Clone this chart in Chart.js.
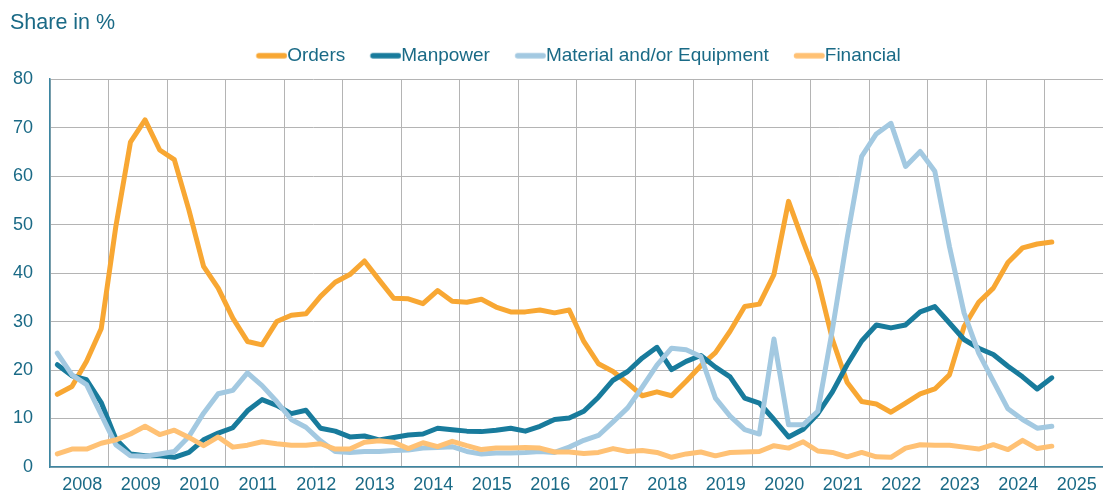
<!DOCTYPE html>
<html><head><meta charset="utf-8">
<script src="https://cdn.jsdelivr.net/npm/chart.js@4/dist/chart.umd.min.js"></script>
<style>html,body{margin:0;padding:0;background:#fff}#w{width:1103px;height:494px;position:relative}</style>
</head><body><div id="w"><canvas id="c"></canvas></div>
<script>
const years = ['2008','2009','2010','2011','2012','2013','2014','2015','2016','2017','2018','2019','2020','2021','2022','2023','2024','2025'];
const seriesNames = ['Orders','Manpower','Material and/or Equipment','Financial'];
// quarterly values, 2008 Q1 ... 2025 Q1
const orders = [15,16.6,21.8,28.5,49.6,67,71.6,65.4,63.4,53,41.4,36.9,30.7,25.9,25.2,30,31.3,31.6,35.2,38.1,39.7,42.5,38.6,34.8,34.7,33.7,36.4,34.2,34,34.6,33,32,32,32.4,31.8,32.4,25.9,21.3,19.7,17.3,14.7,15.5,14.7,17.7,20.9,23.6,28,33.1,33.6,39.7,54.8,46.5,38.6,26.3,17.5,13.5,13,11.3,13.2,15.1,16.1,19,29,34,36.9,42.2,45.2,46,46.4];
const manpower = [21.1,18.8,18,13.3,5.8,2.7,2.3,2.3,2.0,3.0,5.6,7.0,8.1,11.6,13.9,12.7,11.0,11.7,8.0,7.4,6.2,6.4,5.6,6.1,6.6,6.8,8.0,7.7,7.4,7.3,7.6,8.0,7.4,8.4,9.8,10.1,11.5,14.4,17.9,19.7,22.5,24.7,20.1,21.8,23,20.6,18.6,14.2,13.2,9.8,6.2,7.8,11,15.5,21.1,26,29.3,28.7,29.3,32,33.1,29.7,26.3,24.5,23.2,20.8,18.6,16.1,18.4];
const material = [23.5,19,17,10.8,4.6,2.3,2.2,2.7,3.2,6.3,11.1,15.1,15.8,19.4,16.8,13.5,9.8,8.2,5.4,3.2,3.0,3.2,3.2,3.4,3.5,3.9,4.0,4.2,3.2,2.7,2.9,2.9,3.0,3.2,3.0,4.1,5.5,6.5,9.3,12.2,16.5,21,24.5,24.2,22.8,14.2,10.5,7.7,6.8,26.4,8.7,8.7,11.5,28.4,47.1,64.1,68.7,70.9,62,65.1,61,45.5,31.8,23.5,17.7,12,9.8,8,8.4];
const financial = [2.7,3.7,3.7,4.9,5.6,6.8,8.4,6.7,7.6,6.1,4.4,6.2,4.1,4.5,5.2,4.8,4.5,4.5,4.8,3.7,3.7,5.1,5.4,5.1,3.8,5.0,4.2,5.3,4.4,3.6,3.9,3.9,4.0,3.9,3.1,3.1,2.8,3.0,3.8,3.2,3.4,3.0,2.0,2.7,3.1,2.3,3.0,3.1,3.2,4.4,3.9,5.2,3.3,3.0,2.1,3.0,2.1,2.0,3.9,4.6,4.5,4.5,4.1,3.7,4.6,3.6,5.5,3.8,4.3];
const yTicks = [0,10,20,30,40,50,60,70,80];

const colors = ['#F8A733','#187B9C','#A3C9E1','#FFC174'];
const txt = '#1A6A86';
const FONT = "'Liberation Sans', Arial, sans-serif";

function legendImg(color){
  const c = document.createElement('canvas');
  c.width = 56; c.height = 8;
  const g = c.getContext('2d');
  g.strokeStyle = color; g.lineWidth = 5.3; g.lineCap = 'round';
  g.beginPath(); g.moveTo(27.4,4); g.lineTo(53.1,4); g.stroke();
  return c;
}
const legendImgs = colors.map(legendImg);

const pts = arr => arr.map((v,i)=>({x:i+0.5,y:v}));
const all = [orders, manpower, material, financial];
const datasets = all.map((arr,k)=>({
  label: seriesNames[k],
  data: pts(arr),
  borderColor: colors[k],
  backgroundColor: colors[k],
  borderWidth: 5,
  pointRadius: 0,
  pointHoverRadius: 0,
  tension: 0,
  borderJoinStyle: 'round',
  borderCapStyle: 'round',
  order: 3-k
}));

const legendSpacer = {
  id: 'legendSpacer',
  beforeInit(chart){
    const orig = chart.legend.fit;
    chart.legend.fit = function(){
      orig.call(this);
      this.height += 4;
      if (this.lineWidths && this.lineWidths.length) this.lineWidths[0] += 11;
    };
  }
};

new Chart(document.getElementById('c'), {
  type: 'line',
  data: { datasets },
  plugins: [legendSpacer],
  options: {
    responsive: true,
    maintainAspectRatio: false,
    animation: false,
    layout: { padding: { left: 10, right: 0, top: 0, bottom: 0 } },
    plugins: {
      title: {
        display: true, text: 'Share in %', align: 'start', color: txt,
        font: { family: FONT, size: 21.5, weight: 'normal' },
        padding: { top: 10.4, bottom: 0 }
      },
      legend: {
        position: 'top', align: 'center', fullSize: false,
        labels: {
          color: txt, font: { family: FONT, size: 19 },
          usePointStyle: true, pointStyleWidth: 36.5, boxHeight: 8, padding: 10,
          sort: (a,b)=>a.datasetIndex-b.datasetIndex,
          generateLabels: (chart)=> Chart.defaults.plugins.legend.labels.generateLabels(chart).map(l=>({...l, pointStyle: legendImgs[l.datasetIndex]}))
        }
      },
      tooltip: { enabled: false }
    },
    scales: {
      x: {
        type: 'linear', min: 0, max: 72,
        afterBuildTicks: (axis)=>{ axis.ticks = Array.from({length:37},(_,k)=>({value:k*2})); },
        afterFit: (axis)=>{ axis.height = 27; },
        ticks: {
          autoSkip: false, maxRotation: 0, minRotation: 0, padding: 0, labelOffset: 3, color: txt,
          font: { family: FONT, size: 18 },
          callback: (v)=> (v%4===2) ? years[(v-2)/4] : ''
        },
        grid: {
          drawTicks: true, tickLength: 7, tickColor: 'rgba(0,0,0,0)', lineWidth: 1,
          color: (ctx)=> (ctx.tick && ctx.tick.value%4===0) ? '#B4B4B4' : 'rgba(0,0,0,0)'
        },
        border: { color: '#3D86A2', width: 1.5 }
      },
      y: {
        min: 0, max: 80,
        afterBuildTicks: (axis)=>{ axis.ticks = yTicks.map(v=>({value:v})); },
        afterFit: (axis)=>{ axis.width = 40; },
        ticks: { padding: 0, color: txt, font: { family: FONT, size: 18 } },
        grid: { drawTicks: true, tickLength: 17, tickColor: 'rgba(0,0,0,0)', color: '#B4B4B4', lineWidth: 1 },
        border: { color: '#3D86A2', width: 1.5 }
      }
    }
  }
});
</script></body></html>
